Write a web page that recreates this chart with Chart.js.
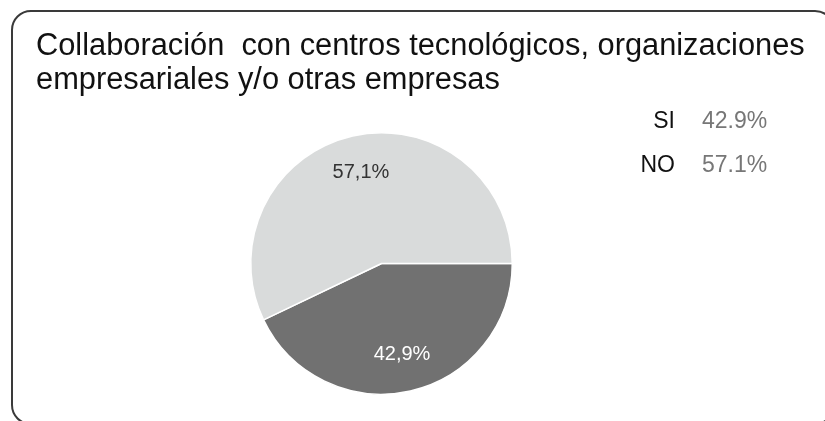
<!DOCTYPE html>
<html>
<head>
<meta charset="utf-8">
<script src="https://cdn.jsdelivr.net/npm/chart.js@4"></script>
<style>
  html, body { margin: 0; padding: 0; background: #fff; }
  #wrap { position: relative; width: 825px; height: 421px; overflow: hidden; }
  #box {
    position: absolute; left: 11px; top: 10px; width: 820px; height: 411px;
    border: 2px solid #3a3a3a; border-radius: 20px;
  }
  #pieChart { position: absolute; left: 0; top: 0; }
</style>
</head>
<body>
<div id="wrap">
  <div id="box"></div>
  <canvas id="pieChart" width="825" height="421"></canvas>
</div>
<script>
const titleLines = [
  "Collaboración  con centros tecnológicos, organizaciones",
  "empresariales y/o otras empresas"
];
const categories = ["SI", "NO"];
const values = [42.9, 57.1];
const sliceColors = ["#717171", "#d9dbdb"];
const labelColors = ["#ffffff", "#333333"];

const fontFamily = "'Liberation Sans', Arial, sans-serif";

// title, legend and slice labels drawn on top of the pie
const textPlugin = {
  id: "textPlugin",
  afterDraw(chart) {
    const ctx = chart.ctx;
    ctx.save();

    ctx.fillStyle = "#111";
    ctx.font = "30.8px " + fontFamily;
    ctx.textAlign = "left";
    ctx.textBaseline = "alphabetic";
    ctx.fillText(titleLines[0], 36, 55);
    ctx.fillText(titleLines[1], 36, 89);

    ctx.font = "23px " + fontFamily;
    categories.forEach((c, i) => {
      const y = 128 + i * 44;
      ctx.textAlign = "right";
      ctx.fillStyle = "#111";
      ctx.fillText(c, 675, y);
      ctx.textAlign = "left";
      ctx.fillStyle = "#777";
      ctx.fillText(values[i].toFixed(1) + "%", 702, y);
    });

    const meta = chart.getDatasetMeta(0);
    ctx.font = "20px " + fontFamily;
    ctx.textAlign = "center";
    ctx.textBaseline = "middle";
    meta.data.forEach((arc, i) => {
      const p = arc.getProps(["x", "y", "startAngle", "endAngle", "outerRadius"], true);
      const mid = (p.startAngle + p.endAngle) / 2;
      const r = p.outerRadius * 0.71;
      ctx.fillStyle = labelColors[i];
      ctx.fillText(values[i].toFixed(1).replace(".", ",") + "%",
        p.x + Math.cos(mid) * r, p.y + Math.sin(mid) * r);
    });

    ctx.restore();
  }
};

const pieGraph = document.getElementById("pieChart").getContext("2d");
const pieChart = new Chart(pieGraph, {
  type: "pie",
  data: {
    labels: categories,
    datasets: [{
      data: values,
      backgroundColor: sliceColors,
      borderColor: "#ffffff",
      borderWidth: 1.5,
    }],
  },
  options: {
    responsive: false,
    animation: false,
    rotation: 90,
    layout: {
      padding: { left: 250, right: 312, top: 132, bottom: 26 },
    },
    plugins: {
      legend: { display: false },
      title: { display: false },
      tooltip: { enabled: false },
    },
  },
  plugins: [textPlugin],
});
</script>
</body>
</html>
